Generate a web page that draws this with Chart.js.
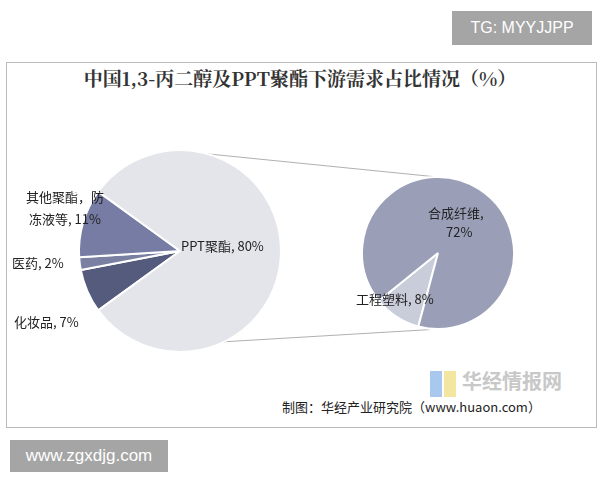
<!DOCTYPE html>
<html>
<head>
<meta charset="utf-8">
<script src="https://cdn.jsdelivr.net/npm/chart.js@4"></script>
<style>
  body { margin: 0; width: 600px; height: 480px; background: #fff; position: relative; overflow: hidden;
         font-family: "Noto Sans CJK SC", "Noto Sans", sans-serif; }
  .abs { position: absolute; white-space: nowrap; }
  #frame { left: 6px; top: 62px; width: 589px; height: 364px; border: 1px solid #bbb; }
  #title { left: 0; width: 600px; top: 64px; text-align: center; font-size: 19px; font-weight: bold; color: #333;
           font-family: "Noto Serif CJK SC", "Noto Sans CJK SC", serif; }
  .lbl { font-size: 13px; color: #222; }
  #tg { left: 452px; top: 11px; width: 140px; height: 34px; background: #a5a5a5; color: #fff; font-size: 16px;
        font-family: "Liberation Sans", sans-serif; line-height: 34px; text-align: center; }
  #zg { left: 10px; top: 440px; width: 158px; height: 32px; background: #a5a5a5; color: #fff; font-size: 17px;
        font-family: "Liberation Sans", sans-serif; line-height: 32px; text-align: center; }
  #logo { left: 430px; top: 366px; font-size: 20px; font-weight: bold; color: #c8c8c8; }
  #src { left: 282px; top: 397px; font-size: 13px; color: #222; }
  svg { position: absolute; left: 0; top: 0; }
</style>
</head>
<body>
<div id="frame" class="abs"></div>
<div id="tg" class="abs">TG: MYYJJPP</div>
<div id="title" class="abs">中国1,3-丙二醇及PPT聚酯下游需求占比情况（%）</div>
<svg width="600" height="480" id="links"></svg>
<canvas id="mainPie" class="abs" width="210" height="210" style="left:75px;top:146px"></canvas>
<canvas id="subPie" class="abs" width="160" height="160" style="left:358px;top:173px"></canvas>
<div class="abs lbl" style="left:26px;top:187px">其他聚酯，防</div>
<div class="abs lbl" style="left:29px;top:209px">冻液等, 11%</div>
<div class="abs lbl" style="left:12px;top:253px">医药, 2%</div>
<div class="abs lbl" style="left:14px;top:312px">化妆品, 7%</div>
<div class="abs lbl" style="left:181px;top:236px">PPT聚酯, 80%</div>
<div class="abs lbl" style="left:428px;top:203px">合成纤维,</div>
<div class="abs lbl" style="left:446px;top:222px">72%</div>
<div class="abs lbl" style="left:356px;top:289px">工程塑料, 8%</div>
<div id="logo" class="abs"><span style="display:inline-block;width:12px;height:26px;background:#a8c8ee;vertical-align:middle;margin-right:2px"></span><span style="display:inline-block;width:12px;height:26px;background:#f2e6a0;vertical-align:middle;margin-right:6px"></span>华经情报网</div>
<div id="src" class="abs">制图：华经产业研究院（www.huaon.com）</div>
<div id="zg" class="abs">www.zgxdjg.com</div>
<script>
const mainLabels = ['化妆品', '医药', '其他聚酯，防冻液等', 'PPT聚酯'];
const mainValues = [7, 2, 11, 80];
const mainColors = ['#555b7c', '#7a80a2', '#767ca4', '#e3e5ea'];

const subLabels = ['工程塑料', '合成纤维'];
const subValues = [8, 72];
const subColors = ['#c9ccd9', '#9a9fb7'];

function pieConfig(labels, values, colors, rotation) {
    return {
        type: 'pie',
        data: { labels: labels, datasets: [{ data: values, backgroundColor: colors, borderColor: '#ffffff', borderWidth: 2 }] },
        options: {
            responsive: false,
            animation: false,
            rotation: rotation,
            layout: { padding: 3 },
            plugins: { legend: { display: false }, tooltip: { enabled: false } }
        }
    };
}

const mainChart = new Chart(document.getElementById('mainPie'), pieConfig(mainLabels, mainValues, mainColors, 234));
const subChart = new Chart(document.getElementById('subPie'), pieConfig(subLabels, subValues, subColors, 195));

// connector lines between the two pies
function pt(chart, offX, offY, deg) {
    const arc = chart.getDatasetMeta(0).data[0];
    const a = deg * Math.PI / 180;
    return [offX + arc.x + arc.outerRadius * Math.cos(a), offY + arc.y + arc.outerRadius * Math.sin(a)];
}
const svg = document.getElementById('links');
[[-74, -78], [64, 88]].forEach(([a1, a2]) => {
    const p1 = pt(mainChart, 75, 146, a1);
    const p2 = pt(subChart, 358, 173, a2);
    const line = document.createElementNS('http://www.w3.org/2000/svg', 'line');
    line.setAttribute('x1', p1[0]); line.setAttribute('y1', p1[1]);
    line.setAttribute('x2', p2[0]); line.setAttribute('y2', p2[1]);
    line.setAttribute('stroke', '#b0b0b0'); line.setAttribute('stroke-width', '1');
    svg.appendChild(line);
});
</script>
</body>
</html>
